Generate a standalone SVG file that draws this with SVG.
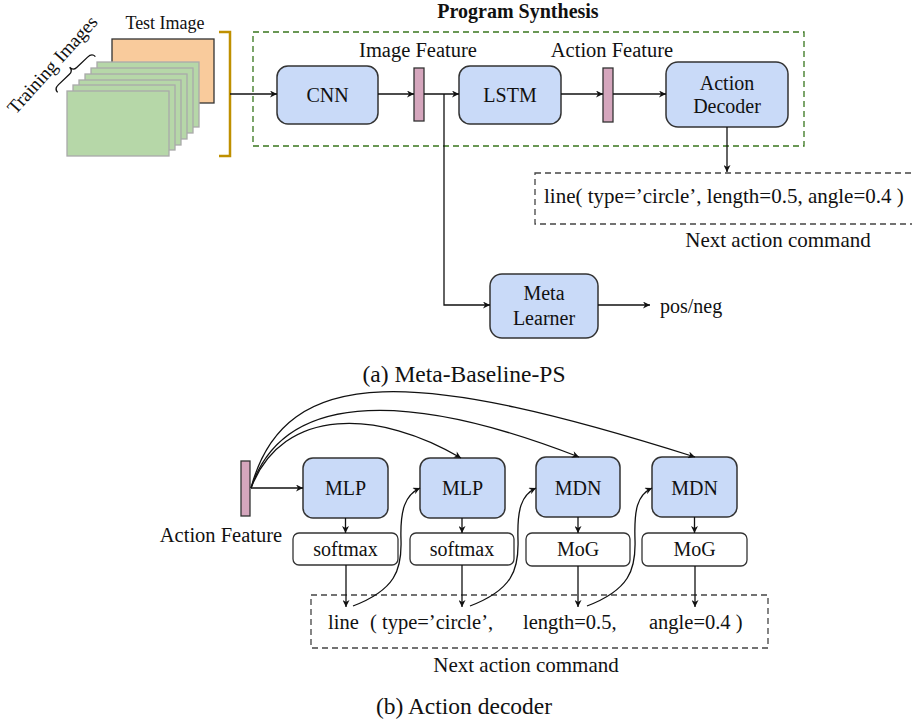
<svg xmlns="http://www.w3.org/2000/svg" width="912" height="723" viewBox="0 0 912 723" font-family="'Liberation Serif', 'Times New Roman', Times, serif">
<defs>
<style>
text{fill:#111;}
.t20{font-size:20px;}
.t21{font-size:21px;}
.f205{font-size:20.5px;}
.t19{font-size:19px;}
.t18{font-size:18px;}
.cap{font-size:23.5px;}
.mid{text-anchor:middle;}
.blue{fill:#c9daf8;stroke:#333;stroke-width:1.5;}
.white{fill:#fff;stroke:#333;stroke-width:1.3;}
.bar{fill:#d5a6bd;stroke:#333;stroke-width:1.3;}
.conn{fill:none;stroke:#111;stroke-width:1.3;}
.dash{fill:none;stroke:#444;stroke-width:1.3;stroke-dasharray:6 4;}
</style>
<marker id="arr" viewBox="0 0 10 10" refX="10" refY="5" markerWidth="8" markerHeight="7" orient="auto" markerUnits="userSpaceOnUse">
<path d="M0,0 L10,5 L0,10 L3,5 z" fill="#111"/>
</marker>
</defs>
<rect width="912" height="723" fill="#fff"/>

<!-- Images -->
<g id="test-image">
<rect x="112" y="39" width="102" height="64" fill="#f9cb9c" stroke="#333" stroke-width="1.3"/>
<text class="t18 mid" x="165" y="29">Test Image</text>
</g>
<g id="training-images" fill="#b6d7a8" stroke="#aaa" stroke-width="1.3">
<rect x="97" y="62" width="102" height="65"/>
<rect x="91" y="68" width="102" height="65"/>
<rect x="85" y="74" width="102" height="65"/>
<rect x="79" y="80" width="102" height="65"/>
<rect x="73" y="85" width="102" height="65"/>
<rect x="67" y="91" width="102" height="65"/>
</g>
<g id="training-label">
<path transform="translate(76.5,74.5) rotate(-43.4)" d="M-26,0 Q-26,-5 -20,-5 L-5,-5 Q0,-5 0,-10 Q0,-5 5,-5 L20,-5 Q26,-5 26,0" fill="none" stroke="#111" stroke-width="1.3"/>
<text class="t19 mid" transform="translate(57,69) rotate(-48)" x="0" y="0">Training Images</text>
</g>
<g id="bracket">
<path d="M219,32 L230,32 L230,156 L219,156" fill="none" stroke="#bf9000" stroke-width="2.5"/>
</g>

<!-- Program synthesis frame -->
<g id="program-synthesis">
<rect x="253" y="32" width="551" height="114" fill="none" stroke="#38761d" stroke-width="1.3" stroke-dasharray="6 4"/>
<text class="t20 mid" x="518" y="18" font-weight="bold">Program Synthesis</text>
</g>

<g id="cnn">
<rect class="blue" x="277" y="66" width="101" height="58" rx="11"/>
<text class="t20 mid" x="327.5" y="102">CNN</text>
</g>
<g id="image-feature">
<rect class="bar" x="414" y="68" width="10" height="53"/>
<text class="f205 mid" x="418" y="57">Image Feature</text>
</g>
<g id="lstm">
<rect class="blue" x="459" y="66" width="102" height="58" rx="11"/>
<text class="t20 mid" x="510" y="102">LSTM</text>
</g>
<g id="action-feature-a">
<rect class="bar" x="603" y="68" width="10" height="54"/>
<text class="f205 mid" x="612" y="57">Action Feature</text>
</g>
<g id="action-decoder">
<rect class="blue" x="666" y="62" width="122" height="65" rx="12"/>
<text class="t20 mid" x="727" y="90">Action</text>
<text class="t20 mid" x="727" y="113">Decoder</text>
</g>
<g id="command-a">
<rect class="dash" x="535" y="173" width="400" height="51"/>
<text class="t21" x="544" y="203">line( type=’circle’, length=0.5, angle=0.4 )</text>
<text class="t21 mid" x="778" y="247">Next action command</text>
</g>
<g id="meta-learner">
<rect class="blue" x="490" y="274" width="108" height="64" rx="12"/>
<text class="t20 mid" x="544" y="300">Meta</text>
<text class="t20 mid" x="544" y="325">Learner</text>
</g>
<g id="posneg">
<text class="t20" x="660" y="313">pos/neg</text>
</g>
<g id="caption-a">
<text class="cap mid" x="464" y="382">(a) Meta-Baseline-PS</text>
</g>

<!-- Part b -->
<g id="action-feature-b">
<rect class="bar" x="241" y="461" width="9" height="55"/>
<text class="f205 mid" x="221" y="542">Action Feature</text>
</g>
<g id="mlp1">
<rect class="blue" x="303" y="458" width="85" height="60" rx="10"/>
<text class="t20 mid" x="345.5" y="495">MLP</text>
</g>
<g id="mlp2">
<rect class="blue" x="420" y="458" width="85" height="60" rx="10"/>
<text class="t20 mid" x="462.5" y="495">MLP</text>
</g>
<g id="mdn1">
<rect class="blue" x="536" y="457" width="84" height="60" rx="10"/>
<text class="t20 mid" x="578" y="495">MDN</text>
</g>
<g id="mdn2">
<rect class="blue" x="652" y="457" width="85" height="60" rx="10"/>
<text class="t20 mid" x="694.5" y="495">MDN</text>
</g>
<g id="softmax1">
<rect class="white" x="293" y="533" width="105" height="32" rx="6"/>
<text class="t20 mid" x="345.5" y="556">softmax</text>
</g>
<g id="softmax2">
<rect class="white" x="410" y="533" width="104" height="32" rx="6"/>
<text class="t20 mid" x="462" y="556">softmax</text>
</g>
<g id="mog1">
<rect class="white" x="526" y="533" width="104" height="33" rx="6"/>
<text class="t20 mid" x="578" y="556">MoG</text>
</g>
<g id="mog2">
<rect class="white" x="642" y="533" width="105" height="33" rx="6"/>
<text class="t20 mid" x="694.5" y="556">MoG</text>
</g>
<g id="command-b">
<rect class="dash" x="311" y="595" width="457" height="53"/>
<text class="f205" x="328" y="629">line</text>
<text class="f205" x="370" y="629">( type=’circle’,</text>
<text class="f205" x="523" y="629">length=0.5,</text>
<text class="f205" x="649" y="629">angle=0.4 )</text>
<text class="t21 mid" x="526" y="672">Next action command</text>
</g>
<g id="caption-b">
<text class="cap mid" x="464" y="714">(b) Action decoder</text>
</g>

<!-- Connectors -->
<g id="connectors">
<line class="conn" x1="230" y1="94" x2="277" y2="94" marker-end="url(#arr)"/>
<line class="conn" x1="378" y1="94" x2="414" y2="94" marker-end="url(#arr)"/>
<line class="conn" x1="424" y1="94" x2="459" y2="94" marker-end="url(#arr)"/>
<line class="conn" x1="561" y1="94" x2="603" y2="94" marker-end="url(#arr)"/>
<line class="conn" x1="613" y1="94" x2="666" y2="94" marker-end="url(#arr)"/>
<line class="conn" x1="727" y1="127" x2="727" y2="172" marker-end="url(#arr)"/>
<polyline class="conn" points="444,94 444,305 490,305" marker-end="url(#arr)"/>
<line class="conn" x1="598" y1="305" x2="650" y2="305" marker-end="url(#arr)"/>

<line class="conn" x1="251" y1="488" x2="303" y2="488" marker-end="url(#arr)"/>
<path class="conn" d="M251,488 C283,405 380,410 461,458" marker-end="url(#arr)"/>
<path class="conn" d="M251,488 C285,385 420,395 579,457" marker-end="url(#arr)"/>
<path class="conn" d="M251,488 C285,360 420,370 695,457" marker-end="url(#arr)"/>

<line class="conn" x1="345.5" y1="518" x2="345.5" y2="533" marker-end="url(#arr)"/>
<line class="conn" x1="462" y1="518" x2="462" y2="533" marker-end="url(#arr)"/>
<line class="conn" x1="578" y1="517" x2="578" y2="533" marker-end="url(#arr)"/>
<line class="conn" x1="694.5" y1="517" x2="694.5" y2="533" marker-end="url(#arr)"/>

<line class="conn" x1="346" y1="565" x2="346" y2="607" marker-end="url(#arr)"/>
<line class="conn" x1="462" y1="565" x2="462" y2="607" marker-end="url(#arr)"/>
<line class="conn" x1="578" y1="566" x2="578" y2="607" marker-end="url(#arr)"/>
<line class="conn" x1="695" y1="566" x2="695" y2="607" marker-end="url(#arr)"/>

<path class="conn" d="M353,606 C395,590 402,570 401,540 C400,510 405,495 420,488" marker-end="url(#arr)"/>
<path class="conn" d="M470,606 C512,590 519,570 518,540 C517,510 521,495 536,488" marker-end="url(#arr)"/>
<path class="conn" d="M587,606 C629,590 636,570 635,540 C634,510 637,495 652,488" marker-end="url(#arr)"/>
</g>
</svg>
